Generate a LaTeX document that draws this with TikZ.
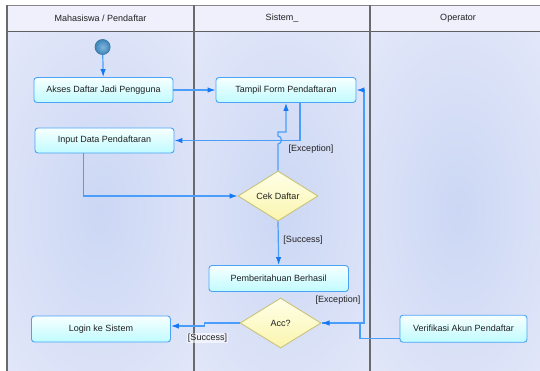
\documentclass[tikz,border=0pt]{standalone}
\usepackage{fontspec}
\setmainfont{Liberation Sans}
\usetikzlibrary{shapes.geometric,arrows.meta}
\definecolor{lanebg}{HTML}{ECEEFB}
\definecolor{glow}{HTML}{CBD7F4}
\definecolor{headbg}{HTML}{F0F0FC}
\definecolor{frameline}{HTML}{6A6A6A}
\definecolor{conn}{HTML}{4A9EFA}
\definecolor{tipc}{HTML}{1577F2}
\definecolor{boxline}{HTML}{4AA3F5}
\definecolor{boxtop}{HTML}{F7FFFF}
\definecolor{boxbot}{HTML}{C0FBFF}
\definecolor{dtop}{HTML}{FFFFE8}
\definecolor{dbot}{HTML}{FAF5AE}
\definecolor{dline}{HTML}{C9C27A}
\definecolor{txt}{HTML}{202020}
\definecolor{startin}{HTML}{7DB6DC}
\definecolor{startout}{HTML}{3F85B8}
\definecolor{startline}{HTML}{3A7AAA}
\begin{document}
\begin{tikzpicture}[x=1pt,y=-1pt,
  font=\fontsize{9}{10}\selectfont, text=txt,
  actbox/.style={draw=boxline, line width=0.9pt, rounded corners=3pt,
    top color=boxtop, bottom color=boxbot, minimum width=#1,
    minimum height=25pt, inner sep=0pt},
  decide/.style={diamond, draw=dline, line width=0.9pt, top color=dtop,
    bottom color=dbot, minimum width=80pt, minimum height=50pt, inner sep=0pt},
  conn/.style={draw=conn, line width=1.2pt,
    -{Latex[length=8pt,width=5.5pt,color=tipc]}},
  guard/.style={inner sep=1pt},
  lanetitle/.style={inner sep=0pt},
  glowfill/.style={shading=radial, inner color=glow, outer color=lanebg}]
\useasboundingbox (0,0) rectangle (540,371);
% lanes background
\fill[lanebg] (7,31.7) rectangle (546,371);
\begin{scope}
  \clip (7,31.7) rectangle (194,371);
  \path[glowfill] (100,210) ellipse (190pt and 330pt);
\end{scope}
\begin{scope}
  \clip (194,31.7) rectangle (370,371);
  \path[glowfill] (282,210) ellipse (180pt and 330pt);
\end{scope}
\begin{scope}
  \clip (370,31.7) rectangle (546,371);
  \path[glowfill] (458,210) ellipse (180pt and 330pt);
\end{scope}
% header
\fill[headbg] (7,5.5) rectangle (546,31.7);
\draw[frameline!80, line width=1.4pt] (7,5.5) -- (546,5.5);
\draw[frameline!90!black, line width=0.8pt] (7,31.7) -- (546,31.7);
\draw[frameline, line width=1.4pt] (7,5.5) -- (7,371);
\draw[frameline, line width=1.4pt] (194,5.5) -- (194,371);
\draw[frameline, line width=1.4pt] (370,5.5) -- (370,371);
\node[lanetitle] (h1) at (100.5,18) {Mahasiswa / Pendaftar};
\node[lanetitle] (h2) at (282,18) {Sistem\_};
\node[lanetitle] (h3) at (458,18) {Operator};
% nodes
\node[circle, draw=startline, line width=0.8pt, shading=radial,
  inner color=startin, outer color=startout,
  minimum size=15pt, inner sep=0pt] (start) at (102.6,47) {};
\node[actbox=139pt] (akses) at (103.5,90) {Akses Daftar Jadi Pengguna};
\node[actbox=140pt] (tampil) at (286,90) {Tampil Form Pendaftaran};
\node[actbox=139pt] (input) at (104.5,140.5) {Input Data Pendaftaran};
\node[decide] (cek) at (278,196) {Cek Daftar};
\node[actbox=139.5pt, minimum height=26pt] (pember) at (278.7,278.5) {Pemberitahuan Berhasil};
\node[decide, minimum width=81pt] (acc) at (280.6,323) {Acc?};
\node[actbox=139pt, minimum height=26pt] (login) at (101,329) {Login ke Sistem};
\node[actbox=127pt, minimum height=27pt] (verif) at (463.5,328.7) {Verifikasi Akun Pendaftar};
% connectors
\draw[conn] (start) -- (akses);
\draw[conn] (akses) -- (tampil);
\draw[conn] ([xshift=14pt]tampil.south) |- (input.east);
\draw[conn] ([xshift=-21.2pt]input.south) |- (cek.west);
\draw[conn] (cek.north) -- (278,144) .. controls (282.5,144) and (282.5,136) .. (278,136)
  -- (278,132) -- (286,132) -- (tampil.south);
\draw[conn] (cek.south) -- (pember.north);
\draw[conn] (acc.east) -- ++(42.4,0) |- (tampil.east);
\draw[conn] ([yshift=4pt]verif.south west) -- ++(-39.5,0) |- (acc.east);
\draw[conn] (acc.west) -- ++(-35,0) |- ([yshift=3pt]login.east);
% guards
\node[guard] (g1) at (311,149) {[Exception]};
\node[guard] (g2) at (303,240) {[Success]};
\node[guard] (g3) at (338,300) {[Exception]};
\node[guard, fill=white, fill opacity=0.6, text opacity=1] (g4) at (207.5,338) {[Success]};
\end{tikzpicture}
\end{document}
